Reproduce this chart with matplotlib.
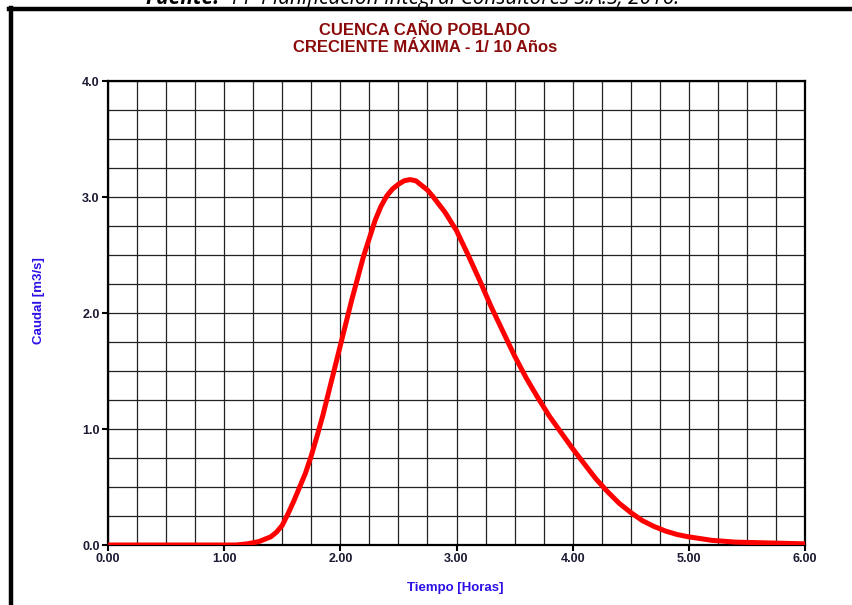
import matplotlib
matplotlib.use("Agg")
import matplotlib.pyplot as plt
from matplotlib.lines import Line2D
from matplotlib.ticker import MultipleLocator, FormatStrFormatter

# hydrograph
tiempo = [0.0, 0.5, 1.0, 1.1, 1.2, 1.3, 1.4, 1.45, 1.5, 1.55, 1.6, 1.65, 1.7, 1.75,
          1.8, 1.85, 1.9, 1.95, 2.0, 2.1, 2.2, 2.3, 2.35, 2.4, 2.45, 2.5, 2.55, 2.6,
          2.65, 2.7, 2.75, 2.8, 2.9, 3.0, 3.1, 3.2, 3.3, 3.4, 3.5, 3.6, 3.7, 3.8,
          3.9, 4.0, 4.1, 4.2, 4.3, 4.4, 4.5, 4.6, 4.7, 4.8, 4.9, 5.0, 5.2, 5.4,
          5.6, 5.8, 6.0]
caudal = [0.0, 0.0, 0.0, 0.0, 0.01, 0.03, 0.07, 0.11, 0.17, 0.27, 0.38, 0.50, 0.62, 0.77,
          0.94, 1.12, 1.32, 1.52, 1.72, 2.12, 2.49, 2.80, 2.92, 3.01, 3.07, 3.11, 3.14, 3.15,
          3.14, 3.10, 3.06, 3.00, 2.87, 2.71, 2.50, 2.28, 2.05, 1.84, 1.63, 1.44, 1.27, 1.11,
          0.97, 0.83, 0.70, 0.57, 0.46, 0.36, 0.28, 0.21, 0.16, 0.12, 0.09, 0.07, 0.04, 0.025,
          0.02, 0.015, 0.01]

titulo = "CUENCA CAÑO POBLADO\nCRECIENTE MÁXIMA - 1/ 10 Años"
fuente_b = "Fuente:"
fuente = "PP Planificación Integral Consultores S.A.S, 2016."

plt.rcParams['font.family'] = ['Liberation Sans', 'DejaVu Sans']

fig = plt.figure(figsize=(8.52, 6.05), dpi=100)
ax = fig.add_axes([108/852, 1 - 545/605, 697/852, 464/605])

ax.plot(tiempo, caudal, color='#ff0000', lw=3.6, solid_capstyle='round',
        solid_joinstyle='round', zorder=3)

ax.set_xlim(0, 6)
ax.set_ylim(0, 4)
ax.xaxis.set_major_locator(MultipleLocator(1))
ax.yaxis.set_major_locator(MultipleLocator(1))
ax.xaxis.set_minor_locator(MultipleLocator(0.25))
ax.yaxis.set_minor_locator(MultipleLocator(0.25))
ax.xaxis.set_major_formatter(FormatStrFormatter('%.2f'))
ax.yaxis.set_major_formatter(FormatStrFormatter('%.1f'))
ax.grid(which='both', color='#222222', lw=0.9)
ax.tick_params(which='major', length=4, width=1.5, color='black', pad=2,
               labelsize=9, labelcolor='#1a1a33')
ax.tick_params(which='minor', length=0)
for lab in ax.get_xticklabels() + ax.get_yticklabels():
    lab.set_fontweight('bold')
for s in ax.spines.values():
    s.set_linewidth(1.6)
    s.set_color('black')

ax.set_xlabel("Tiempo [Horas]", color='#2a10e6', fontsize=9.5, fontweight='bold')
ax.set_ylabel("Caudal [m3/s]", color='#2a10e6', fontsize=9.5, fontweight='bold')
ax.xaxis.set_label_coords(0.498, -0.08)
ax.yaxis.set_label_coords(-0.091, 0.526)

fig.text(425/852, 1 - 39/605, titulo, ha='center', va='center', color='#8b0a0a',
         fontsize=12, fontweight='bold', linespacing=1.1)

# page frame and caption cut at the top
fig.add_artist(Line2D([11/852, 11/852], [0, 1 - 8/605], transform=fig.transFigure,
                      color='black', lw=3.2))
fig.add_artist(Line2D([9/852, 1], [1 - 8.5/605, 1 - 8.5/605], transform=fig.transFigure,
                      color='black', lw=3.2))
fig.text(145/852, 1 - 4/605, fuente_b, ha='left', va='baseline', fontsize=15,
         style='italic', fontweight='bold', family=['Open Sans', 'DejaVu Sans'])
fig.text(232/852, 1 - 4/605, fuente, ha='left', va='baseline', fontsize=15,
         style='italic', family=['Open Sans', 'DejaVu Sans'])

fig.savefig("out.png", dpi=100)
